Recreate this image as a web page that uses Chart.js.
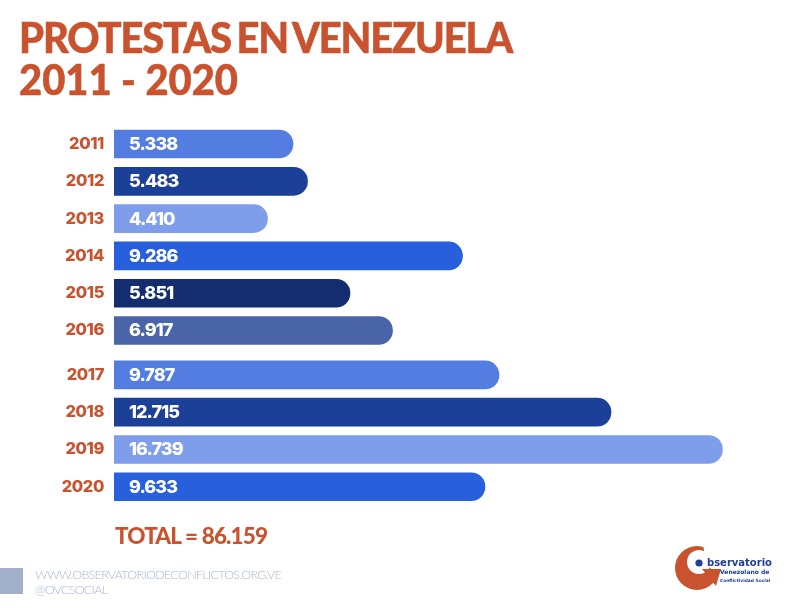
<!DOCTYPE html>
<html>
<head>
<meta charset="utf-8">
<script src="https://cdn.jsdelivr.net/npm/chart.js@4"></script>
<style>
  html, body { margin: 0; padding: 0; background: #fff; }
  #page { position: relative; width: 793px; height: 613px; overflow: hidden; font-family: Lato, sans-serif; }
  #chart { position: absolute; left: 0; top: 0; }
  .txt { position: absolute; white-space: nowrap; color: #c8532e; font-weight: 900; }
  #title1, #title2 { left: 19px; font-size: 42px; line-height: 50px; transform-origin: left center; -webkit-text-stroke: 0.5px #c8532e; }
  #title1 { top: 12px; letter-spacing: -1.2px; word-spacing: -3px; transform: scaleX(0.95); }
  #title2 { top: 54px; transform: scaleX(0.95); }
  #total { left: 115px; top: 522px; font-size: 22.5px; line-height: 28px; letter-spacing: -0.85px; }
  #square { position: absolute; left: 0; top: 568px; width: 23px; height: 26px; background: #a3b0cc; }
  .foot { color: #a9b6d2; font-weight: 300; font-size: 12.5px; line-height: 15px; left: 35px; letter-spacing: -0.7px; }
  #logo { position: absolute; left: 660px; top: 535px; }
</style>
</head>
<body>
<div id="page">
  <canvas id="chart" width="793" height="613"></canvas>
  <div class="txt" id="title1">PROTESTAS EN VENEZUELA</div>
  <div class="txt" id="title2">2011 - 2020</div>
  <div class="txt" id="total">TOTAL = 86.159</div>
  <div id="square"></div>
  <div class="txt foot" style="top:567px">WWW.OBSERVATORIODECONFLICTOS.ORG.VE</div>
  <div class="txt foot" style="top:582px">@OVCSOCIAL</div>
  <svg id="logo" width="125" height="65" viewBox="660 535 125 65">
    <circle cx="697" cy="568" r="22" fill="#c8532e"/>
    <circle cx="699" cy="562" r="12" fill="#fff"/>
    <path d="M703 544 L722 544 L722 570 L712 570 L706 563 Z" fill="#fff"/>
    <path d="M702 569 L721 569 L716 586 Z" fill="#c8532e"/>
    <circle cx="699" cy="563" r="3.6" fill="#1c3f98"/>
    <text x="707" y="566" font-family="DejaVu Sans" font-weight="700" font-size="10" fill="#1c3f98">bservatorio</text>
    <text x="720" y="574" font-family="DejaVu Sans" font-weight="700" font-size="6" fill="#1c3f98">Venezolano de</text>
    <text x="720" y="582" font-family="DejaVu Sans" font-weight="700" font-size="4.4" fill="#1c3f98">Conflictividad Social</text>
  </svg>
</div>
<script>
const years = ['2011', '2012', '2013', '2014', '2015', '2016', '2017', '2018', '2019', '2020'];
// printed numbers
const protests = ['5.338', '5.483', '4.410', '9.286', '5.851', '6.917', '9.787', '12.715', '16.739', '9.633'];
// the bars in the picture are not quite proportional to the printed numbers, so lengths are read off separately
const barLengths = [4924, 5323, 4223, 9587, 6492, 7662, 10591, 13673, 16739, 10206];
const barColors = ['#537de0', '#1c3f98', '#7e9dea', '#285fdc', '#142d6e', '#4a64a8', '#537de0', '#1c3f98', '#7e9dea', '#285fdc'];

// 2017-2020 sit a bit lower than the first group
const groupGap = 0.19;
const rowPositions = years.map((year, i) => i + (i >= 6 ? groupGap : 0));

// Writes the printed number inside each bar
const barLabels = {
    id: 'barLabels',
    beforeDraw(chart) {
        chart.ctx.letterSpacing = '-0.4px';
    },
    afterDatasetsDraw(chart) {
        const ctx = chart.ctx;
        ctx.save();
        ctx.fillStyle = '#fff';
        ctx.font = '800 18px Inter';
        ctx.letterSpacing = '-0.9px';
        ctx.textBaseline = 'middle';
        ctx.textAlign = 'left';
        chart.getDatasetMeta(0).data.forEach((bar, i) => {
            ctx.fillText(protests[i], bar.base + 15, bar.y + 0.5);
        });
        ctx.restore();
    }
};

function drawChart() {
    new Chart(document.getElementById('chart'), {
        type: 'bar',
        data: {
            datasets: [{
                data: barLengths.map((value, i) => ({ x: value, y: rowPositions[i] })),
                backgroundColor: barColors,
                barThickness: 28,
                borderRadius: { topRight: 14, bottomRight: 14, topLeft: 0, bottomLeft: 0 },
                borderSkipped: false
            }]
        },
        options: {
            indexAxis: 'y',
            responsive: false,
            animation: false,
            layout: { padding: { top: 100, bottom: 60, left: 0, right: 0 } },
            plugins: { legend: { display: false }, tooltip: { enabled: false } },
            scales: {
                x: { type: 'linear', min: 0, max: 18680, display: false },
                y: {
                    type: 'linear',
                    reverse: true,
                    offset: false,
                    min: -1.18,
                    max: 10.965,
                    grid: { display: false },
                    border: { display: false },
                    afterFit: scale => { scale.width = 114; },
                    afterBuildTicks: scale => { scale.ticks = rowPositions.map(value => ({ value })); },
                    ticks: {
                        autoSkip: false,
                        padding: 2,
                        color: '#c8532e',
                        font: { family: 'Inter', size: 16.5, weight: '800' },
                        callback: value => years[rowPositions.indexOf(value)]
                    }
                }
            }
        },
        plugins: [barLabels]
    });
}

Promise.all([document.fonts.load('800 18px Inter'), document.fonts.load('900 42px Lato')]).then(drawChart, drawChart);
</script>
</body>
</html>
